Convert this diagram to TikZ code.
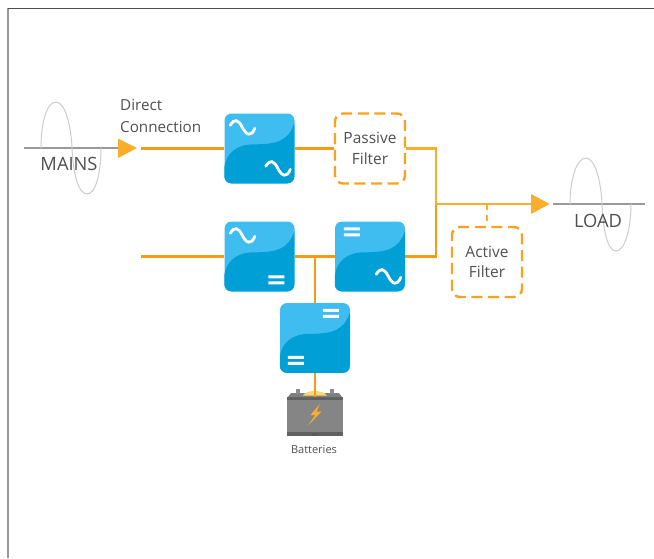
\documentclass[tikz,border=0pt]{standalone}
\usepackage{fontspec}
\setmainfont{Open Sans}
\usetikzlibrary{calc}
\definecolor{blockL}{HTML}{40BDF0}
\definecolor{blockD}{HTML}{00A0D6}
\definecolor{lineO}{HTML}{F79A14}
\definecolor{lineY}{HTML}{FBAE2C}
\definecolor{txt}{HTML}{505050}
\newcommand{\lbsine}[2]{\draw[glyph,shift={(#1,#2)}] (0,6) .. controls (4,-1) and (8,0) .. (12,8) .. controls (16,16) and (21,18) .. (24.5,9);}
\newcommand{\lbeq}[2]{\fill[white,shift={(#1,#2)}] (0,0) rectangle (16,3) (0,6) rectangle (16,9);}
\newcommand{\lbdark}{\fill[blockD] (0,54) .. controls (2,40) and (12,31) .. (30,31) .. controls (52,31) and (64,28) .. (70,10) -- (70,63) .. controls (70,67) and (67,70) .. (63,70) -- (7,70) .. controls (3,70) and (0,67) .. (0,63) -- cycle;}
\tikzset{
  x=1pt,y=-1pt,
  conv/.style={draw=none,rounded corners=7pt,minimum width=70pt,minimum height=70pt,inner sep=0pt,fill=blockL},
  glyph/.style={white,line width=2.8pt,line cap=round},
  wire/.style={lineO,line width=2.4pt},
  wirey/.style={lineY,line width=2.4pt},
  filt/.style={draw=lineO!60!lineY,line width=2.4pt,rounded corners=8pt,dash pattern=on 11pt off 5.6pt,dash phase=5pt,minimum width=70pt,minimum height=70pt,align=center,inner sep=0pt,text=txt,font=\fontsize{15.5}{20.5}\selectfont},
  lab/.style={text=txt,inner sep=0pt,font=\fontsize{18.3}{21}\selectfont},
  tip/.style={fill=lineY,draw=none},
  mainsline/.style={draw=black!40,line width=2.4pt},
  wave/.style={draw=black!20,line width=1pt},
}
\begin{document}
\begin{tikzpicture}
\useasboundingbox (0,0) rectangle (654,558);
\fill[white] (0,0) rectangle (654,558);
% frame
\draw[black!40,line width=1.6pt] (8,8) -- (8,558);
\draw[black!70,line width=1pt] (8,8.5) -- (654,8.5);

% mains
\coordinate (m0) at (24,148);
\coordinate (m1) at (118,148);
\draw[mainsline] (m0) -- (m1);
\draw[wave] (41,148) .. controls (41,122) and (47,102) .. (56,102) .. controls (65,102) and (71,125) .. (72,148) .. controls (73,172) and (78,194) .. (87,194) .. controls (96,194) and (101,172) .. (101,148);
\node[lab] (mains) at (69,164) {MAINS};
\node[anchor=west,align=left,text=txt,inner sep=0pt,font=\fontsize{15.2}{21.5}\selectfont] (direct) at (120,116) {Direct\\Connection};
\fill[tip] (118,138.5) -- (137,148) -- (118,158) -- cycle;

% load
\coordinate (l0) at (553,204);
\coordinate (l1) at (645,204);
\draw[mainsline] (l0) -- (l1);
\draw[wave] (570,204) .. controls (570,178) and (577,158) .. (586,158) .. controls (595,158) and (601,181) .. (602,204) .. controls (603,228) and (607,251) .. (616,251) .. controls (625,251) and (631,228) .. (631,204);
\node[lab] (load) at (598,221) {LOAD};

% converters
\node[conv] (b1) at (259.5,148.5) {};
\node[conv] (b2) at (259.5,256.5) {};
\node[conv] (b3) at (370,256.5) {};
\node[conv] (b4) at (315,338) {};
\node[filt] (pf) at (370,148.5) {Passive\\Filter};
\node[filt] (af) at (487,262) {Active\\Filter};

\begin{scope}[shift={(b1.north west)}]\lbdark\lbsine{6}{6}\lbsine{41.5}{47}\end{scope}
\begin{scope}[shift={(b2.north west)}]\lbdark\lbsine{6}{6}\lbeq{44}{54}\end{scope}
\begin{scope}[shift={(b3.north west)}]\lbdark\lbeq{9}{6}\lbsine{41.5}{47}\end{scope}
\begin{scope}[shift={(b4.north west)}]\lbdark\lbeq{43}{6}\lbeq{8}{53}\end{scope}

% battery
\node[draw=none,fill=black!48,minimum width=56pt,minimum height=39pt,inner sep=0pt] (bat) at (315,416.5) {};
\fill[black!62] (bat.north west) rectangle ($(bat.north east)+(0,3)$);
\fill[black!62] ($(bat.south west)+(0,-4)$) rectangle (bat.south east);
\fill[black!50] (288,397) -- (291,393) -- (339,393) -- (342,397) -- cycle;
\fill[black!45] (296,388.5) rectangle (300,394);
\fill[black!45] (330,388.5) rectangle (334,394);
\fill[yellow!50!orange!55] (303,395.5) .. controls (306,389.5) and (323,389.5) .. (327,395.5) -- cycle;
\fill[black!65] (312,433) rectangle (317,436);
\fill[lineY] (320,404) -- (310.5,415) -- (315.5,415) -- (307.5,426) -- (321.5,411.5) -- (316.5,411.5) -- cycle;
\node[text=txt,inner sep=0pt,font=\fontsize{11}{12}\selectfont] (battxt) at (314,450) {Batteries};

% connectors
\coordinate (start1) at (141,148.5);
\coordinate (start2) at (141,256.5);
\coordinate (bus) at (436,204);
\coordinate (tip) at (531,204);
\coordinate (tap) at (315,256.5);
\draw[wire] (start1) -- (b1.west);
\draw[wire] (b1.east) -- (pf.west);
\draw[wirey] (pf.east) -- (436,148.5) -- (bus);
\draw[wire] (start2) -- (b2.west);
\draw[wire] (b2.east) -- (b3.west);
\draw[wire] (b3.east) -- (436,256.5) -- (bus);
\draw[wirey] (bus) -- (tip);
\draw[wire] (tap) -- (b4.north);
\draw[wire] (b4.south) -- (bat.north);
\draw[wirey,dash pattern=on 6pt off 5pt] (af.north |- bus) -- (af.north);
\fill[tip] (tip |- 0,194) -- (549.5,204) -- (tip |- 0,214) -- cycle;
\end{tikzpicture}
\end{document}
